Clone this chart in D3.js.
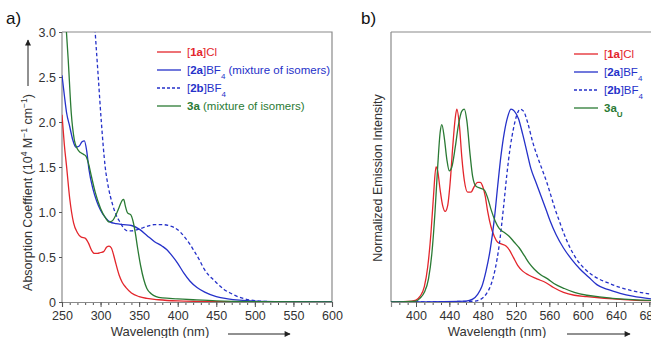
<!DOCTYPE html>
<html>
<head>
<meta charset="utf-8">
<script src="https://cdn.jsdelivr.net/npm/d3@7"></script>
<style>
  body { margin: 0; background: #fff; }
  svg { font-family: "Liberation Sans", Arial, sans-serif; }
</style>
</head>
<body>
<svg id="chart" width="651" height="338"></svg>
<script>
// absorption spectra, panel a  [wavelength nm, 10^4 M-1 cm-1]
const abs1aCl = [[250,2.08],[253,1.75],[256,1.5],[260,1.15],[265,0.88],[270,0.77],[275,0.72],[280,0.71],[284,0.66],[288,0.58],[292,0.54],[296,0.54],[300,0.55],[304,0.56],[308,0.61],[311,0.62],[314,0.6],[317,0.52],[320,0.42],[324,0.3],[328,0.22],[333,0.16],[340,0.1],[350,0.06],[360,0.04],[375,0.025],[400,0.012],[450,0.004],[500,0.001],[600,0]];
const abs2aBF4 = [[250,2.52],[253,2.3],[256,2.1],[260,1.95],[264,1.8],[268,1.72],[272,1.73],[276,1.78],[279,1.79],[282,1.68],[285,1.47],[290,1.26],[295,1.12],[300,1.02],[306,0.94],[312,0.89],[320,0.87],[330,0.86],[340,0.85],[350,0.81],[360,0.74],[370,0.67],[380,0.62],[386,0.58],[392,0.52],[400,0.43],[408,0.32],[416,0.23],[425,0.16],[435,0.11],[450,0.06],[465,0.035],[480,0.02],[500,0.01],[550,0.003],[600,0]];
const abs2bBF4 = [[285,4.5],[290,3.4],[293,3.0],[297,2.5],[301,2.0],[306,1.5],[310,1.28],[315,1.1],[320,0.97],[325,0.89],[330,0.82],[335,0.79],[340,0.79],[350,0.81],[360,0.84],[370,0.86],[380,0.86],[388,0.85],[395,0.83],[403,0.78],[410,0.71],[416,0.64],[421,0.57],[428,0.47],[434,0.37],[440,0.3],[446,0.25],[452,0.2],[460,0.14],[468,0.1],[475,0.07],[485,0.04],[500,0.015],[520,0.005],[600,0]];
const abs3a = [[250,3.6],[255,3.1],[258,2.7],[262,2.1],[266,1.8],[270,1.7],[274,1.66],[278,1.64],[281,1.62],[284,1.55],[288,1.4],[293,1.22],[300,1.04],[306,0.94],[311,0.89],[315,0.9],[320,0.97],[324,1.05],[328,1.13],[330,1.14],[332,1.07],[335,0.99],[339,0.97],[342,0.9],[345,0.77],[348,0.6],[352,0.4],[356,0.25],[360,0.15],[366,0.09],[372,0.06],[380,0.045],[400,0.035],[420,0.025],[450,0.012],[500,0.004],[600,0]];

// emission spectra, panel b  [wavelength nm, normalized]
const em1aCl = [[370,0],[395,0.005],[400,0.01],[405,0.03],[410,0.08],[414,0.18],[418,0.36],[421,0.55],[424,0.7],[426,0.68],[429,0.58],[432,0.5],[435,0.47],[438,0.5],[441,0.62],[444,0.8],[447,0.95],[449,1.0],[452,0.92],[455,0.75],[458,0.63],[462,0.57],[466,0.57],[470,0.6],[474,0.62],[477,0.62],[480,0.6],[483,0.55],[486,0.47],[490,0.39],[494,0.34],[498,0.31],[503,0.3],[508,0.29],[512,0.27],[517,0.23],[522,0.19],[528,0.16],[535,0.14],[545,0.12],[556,0.1],[565,0.075],[577,0.05],[590,0.035],[605,0.028],[620,0.022],[640,0.015],[660,0.01],[690,0.006]];
const em2aBF4 = [[370,0],[460,0.005],[468,0.015],[474,0.04],[479,0.08],[484,0.16],[489,0.27],[494,0.43],[498,0.6],[502,0.76],[506,0.88],[510,0.96],[514,1.0],[518,0.99],[523,0.95],[528,0.87],[533,0.78],[538,0.69],[544,0.62],[550,0.55],[556,0.48],[561,0.42],[568,0.35],[577,0.28],[587,0.22],[597,0.17],[607,0.13],[617,0.09],[630,0.065],[645,0.045],[660,0.03],[690,0.012]];
const em2bBF4 = [[370,0],[470,0.004],[478,0.015],[484,0.04],[490,0.09],[495,0.17],[500,0.3],[505,0.49],[509,0.66],[513,0.8],[517,0.9],[521,0.97],[525,1.0],[529,0.99],[534,0.93],[540,0.83],[546,0.75],[552,0.68],[557,0.62],[562,0.55],[567,0.48],[572,0.42],[577,0.36],[585,0.28],[593,0.22],[603,0.17],[617,0.125],[630,0.1],[645,0.075],[660,0.058],[675,0.045],[690,0.036]];
const em3aU = [[370,0],[400,0.005],[405,0.02],[410,0.05],[415,0.12],[419,0.25],[423,0.48],[426,0.7],[429,0.88],[431,0.92],[434,0.85],[437,0.74],[440,0.68],[443,0.7],[447,0.8],[451,0.92],[455,0.99],[458,1.0],[461,0.94],[465,0.76],[468,0.65],[472,0.6],[477,0.59],[482,0.58],[486,0.54],[490,0.48],[495,0.42],[500,0.38],[506,0.36],[512,0.34],[518,0.31],[524,0.28],[530,0.24],[536,0.2],[542,0.17],[550,0.14],[558,0.12],[566,0.095],[578,0.07],[590,0.05],[605,0.035],[620,0.027],[640,0.018],[660,0.012],[690,0.007]];

const absXTicks = [250, 300, 350, 400, 450, 500, 550, 600];
const absYTicks = [0, 0.5, 1.0, 1.5, 2.0, 2.5, 3.0];
const emXTicks = [400, 440, 480, 520, 560, 600, 640, 680];

const red = "#e3262c", blue = "#2531c9", green = "#2a7a34";
const axisColor = "#8a8a8a", textColor = "#333";

const svg = d3.select("#chart");
const defs = svg.append("defs");

function arrow(x1, y1, x2, y2) {
  svg.append("line")
    .attr("x1", x1).attr("y1", y1).attr("x2", x2).attr("y2", y2)
    .attr("stroke", "#222").attr("stroke-width", 1)
    .attr("marker-end", "url(#head)");
}
defs.append("marker")
  .attr("id", "head")
  .attr("viewBox", "0 -5 10 10")
  .attr("refX", 9).attr("refY", 0)
  .attr("markerWidth", 9).attr("markerHeight", 6)
  .attr("markerUnits", "userSpaceOnUse")
  .attr("orient", "auto")
  .append("path").attr("d", "M0,-5L10,0L0,5Z").attr("fill", "#222");

function drawPanel(opt) {
  const x = d3.scaleLinear().domain(opt.xDomain).range([opt.left, opt.right]);
  const y = d3.scaleLinear().domain(opt.yDomain).range([opt.bottom, opt.top]);

  defs.append("clipPath").attr("id", opt.id + "-clip")
    .append("rect")
    .attr("x", opt.left).attr("y", opt.top)
    .attr("width", opt.right - opt.left).attr("height", opt.bottom - opt.top);

  // frame: top and right edges
  svg.append("path")
    .attr("d", `M${opt.left},${opt.top}H${opt.right}V${opt.bottom}`)
    .attr("fill", "none").attr("stroke", axisColor).attr("stroke-width", 1.2);

  // minor ticks
  const minor = d3.range(opt.xDomain[0], opt.xDomain[1] + 0.1, 10);
  svg.append("g")
    .attr("transform", `translate(0,${opt.bottom})`)
    .call(d3.axisBottom(x).tickValues(minor).tickSize(3).tickFormat(""))
    .call(g => g.select(".domain").remove())
    .call(g => g.selectAll("line").attr("stroke", "#555"));

  const xAxis = svg.append("g")
    .attr("transform", `translate(0,${opt.bottom})`)
    .call(d3.axisBottom(x).tickValues(opt.xTicks).tickSize(5).tickPadding(4).tickFormat(d3.format("d")));
  xAxis.select(".domain").attr("stroke", axisColor).attr("stroke-width", 1.2);
  xAxis.selectAll("line").attr("stroke", "#555");
  xAxis.selectAll("text").attr("fill", textColor).style("font-size", "12.5px")
    .style("font-family", "'Liberation Sans', Arial, sans-serif");

  const yAxis = svg.append("g").attr("transform", `translate(${opt.left},0)`);
  if (opt.yTicks) {
    yAxis.call(d3.axisLeft(y).tickValues(opt.yTicks).tickSize(3).tickPadding(3)
      .tickFormat(d => d === 0 ? "0" : d3.format(".1f")(d)));
    yAxis.selectAll("text").attr("fill", textColor).style("font-size", "12.5px")
      .style("font-family", "'Liberation Sans', Arial, sans-serif");
    yAxis.selectAll("line").attr("stroke", "#555");
  } else {
    yAxis.call(d3.axisLeft(y).tickValues([]).tickSizeOuter(0));
  }
  yAxis.select(".domain").attr("stroke", axisColor).attr("stroke-width", 1.2)
    .attr("d", `M0,${opt.top}V${opt.bottom}`);

  const line = d3.line()
    .x(d => x(d[0]))
    .y(d => y(d[1]))
    .curve(d3.curveMonotoneX);

  const plot = svg.append("g").attr("clip-path", `url(#${opt.id}-clip)`);
  opt.series.forEach(s => {
    plot.append("path")
      .datum(s.data)
      .attr("d", line)
      .attr("fill", "none")
      .attr("stroke", s.color)
      .attr("stroke-width", 1.3)
      .attr("stroke-dasharray", s.dashed ? "3.5,2.5" : null);
  });

  // legend
  const leg = svg.append("g");
  opt.series.forEach((s, i) => {
    const yy = opt.legendY + i * opt.legendStep;
    leg.append("line")
      .attr("x1", opt.legendX).attr("x2", opt.legendX + 24)
      .attr("y1", yy).attr("y2", yy)
      .attr("stroke", s.color).attr("stroke-width", 1.3)
      .attr("stroke-dasharray", s.dashed ? "3,2" : null);
    const t = leg.append("text")
      .attr("x", opt.legendX + 30).attr("y", yy + 4)
      .attr("fill", s.color).style("font-size", "11.5px");
    s.label.forEach(part => {
      const sp = t.append("tspan").text(part.t);
      if (part.b) sp.attr("font-weight", "bold");
      if (part.sub) sp.attr("baseline-shift", "sub").style("font-size", "8px");
    });
  });

  return { x, y };
}

drawPanel({
  id: "abs",
  left: 62, right: 332, top: 32, bottom: 302,
  xDomain: [250, 600], yDomain: [0, 3.0],
  xTicks: absXTicks, yTicks: absYTicks,
  legendX: 157, legendY: 52, legendStep: 18,
  series: [
    { data: abs1aCl, color: red, label: [{t: "["}, {t: "1a", b: true}, {t: "]Cl"}] },
    { data: abs2aBF4, color: blue, label: [{t: "["}, {t: "2a", b: true}, {t: "]BF"}, {t: "4", sub: true}, {t: " (mixture of isomers)"}] },
    { data: abs2bBF4, color: blue, dashed: true, label: [{t: "["}, {t: "2b", b: true}, {t: "]BF"}, {t: "4", sub: true}] },
    { data: abs3a, color: green, label: [{t: "3a", b: true}, {t: " (mixture of isomers)"}] }
  ]
});

drawPanel({
  id: "em",
  left: 391, right: 666, top: 32, bottom: 302,
  xDomain: [370, 700], yDomain: [0, 1.4],
  xTicks: emXTicks, yTicks: null,
  legendX: 574, legendY: 54, legendStep: 18,
  series: [
    { data: em1aCl, color: red, label: [{t: "["}, {t: "1a", b: true}, {t: "]Cl"}] },
    { data: em2aBF4, color: blue, label: [{t: "["}, {t: "2a", b: true}, {t: "]BF"}, {t: "4", sub: true}] },
    { data: em2bBF4, color: blue, dashed: true, label: [{t: "["}, {t: "2b", b: true}, {t: "]BF"}, {t: "4", sub: true}] },
    { data: em3aU, color: green, label: [{t: "3a", b: true}, {t: "U", b: true, sub: true}] }
  ]
});

// panel letters
svg.append("text").attr("x", 6).attr("y", 24).text("a)")
  .attr("fill", "#111").style("font-size", "17px");
svg.append("text").attr("x", 361).attr("y", 24).text("b)")
  .attr("fill", "#111").style("font-size", "17px");

// axis titles
const yTitleA = svg.append("text")
  .attr("transform", "translate(32,94) rotate(-90)")
  .attr("text-anchor", "end")
  .attr("fill", textColor).style("font-size", "12.5px");
yTitleA.append("tspan").text("Absorption Coeffient (10");
yTitleA.append("tspan").text("4").attr("baseline-shift", "super").style("font-size", "8.5px");
yTitleA.append("tspan").text(" M");
yTitleA.append("tspan").text("\u22121").attr("baseline-shift", "super").style("font-size", "8.5px");
yTitleA.append("tspan").text(" cm");
yTitleA.append("tspan").text("\u22121").attr("baseline-shift", "super").style("font-size", "8.5px");
yTitleA.append("tspan").text(")");
arrow(28, 86, 28, 40);

svg.append("text")
  .attr("transform", "translate(382,178) rotate(-90)")
  .attr("text-anchor", "middle")
  .attr("fill", textColor).style("font-size", "12.5px")
  .text("Normalized Emission Intensity");

svg.append("text").attr("x", 160).attr("y", 336).attr("text-anchor", "middle")
  .attr("fill", textColor).style("font-size", "13px").text("Wavelength (nm)");
arrow(228, 334, 290, 334);

svg.append("text").attr("x", 497).attr("y", 336).attr("text-anchor", "middle")
  .attr("fill", textColor).style("font-size", "13px").text("Wavelength (nm)");
arrow(567, 334, 630, 334);
</script>
</body>
</html>
